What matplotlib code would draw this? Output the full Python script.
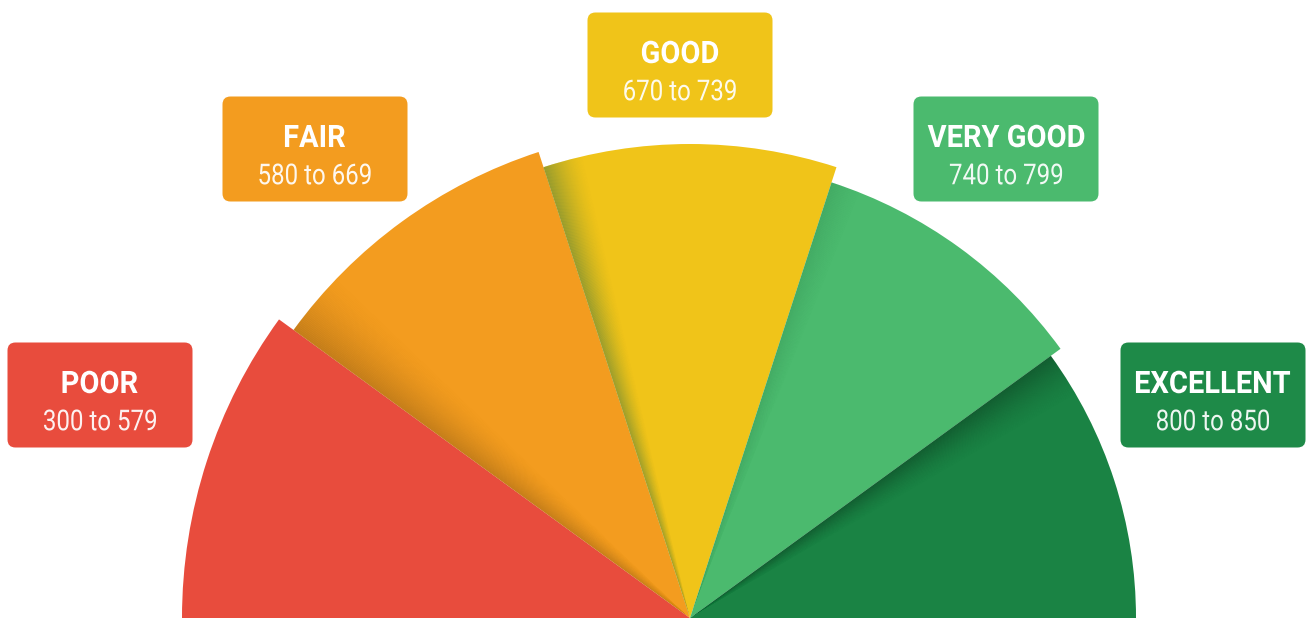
import numpy as np
import matplotlib
matplotlib.use("Agg")
from matplotlib import pyplot as plt
from matplotlib.patches import Wedge, FancyBboxPatch, PathPatch
from matplotlib.textpath import TextPath
from matplotlib.font_manager import FontProperties
from matplotlib.transforms import Affine2D

# Data
labels = ["POOR", "FAIR", "GOOD", "VERY GOOD", "EXCELLENT"]
ranges = ["300 to 579", "580 to 669", "670 to 739", "740 to 799", "800 to 850"]
shares = [1, 1, 1, 1, 1]

# Styling
colors = ["#E84C3D", "#F39C1F", "#F0C419", "#4BBA6E", "#1A8344"]
box_colors = ["#E84C3D", "#F39C1F", "#F0C419", "#4BBA6E", "#1E8A48"]
radii = [508, 490, 474, 458, 446]
box_centers = [(100, 395), (315, 149), (680, 65), (1006, 149), (1213, 395)]  # pixel coords, y down
shadow_width = [0, 8, 5, 4, 6]
shadow_alpha = [0, 0.28, 0.5, 0.12, 0.25]
shadow_color = ["black", "#5a3a10", "#4a7a40", "#1a5a30", "black"]

W, H = 1306, 618
cx, cy = 690, 0

fig = plt.figure(figsize=(W / 100, H / 100), dpi=100)
ax = fig.add_axes([0, 0, 1, 1])
ax.set_xlim(0, W)
ax.set_ylim(0, H)
ax.set_aspect("equal")
ax.axis("off")

bold = FontProperties(family="Roboto", weight="bold")
reg = FontProperties(family="Roboto", weight="normal")


def text_path(s, prop, cap):
    tp = TextPath((0, 0), s, size=100, prop=prop)
    hh = TextPath((0, 0), "H", size=100, prop=prop).get_extents().height
    k = cap / hh
    return tp, k, hh


def squeeze_for(s, prop, cap, width):
    tp, k, hh = text_path(s, prop, cap)
    return width / (tp.get_extents().width * k)


# condensed look: measured widths of "POOR" and "300 to 579" in the reference
sx_bold = squeeze_for("POOR", bold, 22, 75)
sx_reg = squeeze_for("300 to 579", reg, 20.5, 112)


def draw_text(x, y, s, prop, cap, sx, alpha=1.0):
    tp, k, hh = text_path(s, prop, cap)
    ext = tp.get_extents()
    tr = Affine2D().translate(-(ext.x0 + ext.x1) / 2, -hh / 2).scale(k * sx, k).translate(x, y)
    ax.add_patch(PathPatch(tr.transform_path(tp), facecolor="white", edgecolor="none",
                           alpha=alpha, zorder=5))


# wedges from left (180 deg) to right (0 deg)
edges = 180 - np.concatenate([[0], np.cumsum(shares)]) / sum(shares) * 180
for i in range(len(labels)):
    t2, t1 = edges[i], edges[i + 1]
    ax.add_patch(Wedge((cx, cy), radii[i], t1, t2, facecolor=colors[i], edgecolor="none"))
    # soft shadow cast by the neighbour on the left
    if shadow_width[i] > 0:
        n = 40
        for k in range(n):
            a0 = t2 - shadow_width[i] * (k + 1) / n
            a1 = t2 - shadow_width[i] * k / n
            a = shadow_alpha[i] * (1 - k / n) ** 1.6
            ax.add_patch(Wedge((cx, cy), radii[i], a0, a1 + 0.02, facecolor=shadow_color[i],
                               edgecolor="none", alpha=a))

# label boxes
bw, bh = 185, 105
for i in range(len(labels)):
    x, y = box_centers[i]
    y = H - y
    ax.add_patch(FancyBboxPatch((x - bw / 2, y - bh / 2), bw, bh,
                                boxstyle="round,pad=0,rounding_size=8",
                                facecolor=box_colors[i], edgecolor="none"))
    draw_text(x, y + 13, labels[i], bold, 22, sx_bold)
    draw_text(x, y - 25, ranges[i], reg, 20.5, sx_reg, alpha=0.93)

fig.savefig("out.png", dpi=100, facecolor="white")
